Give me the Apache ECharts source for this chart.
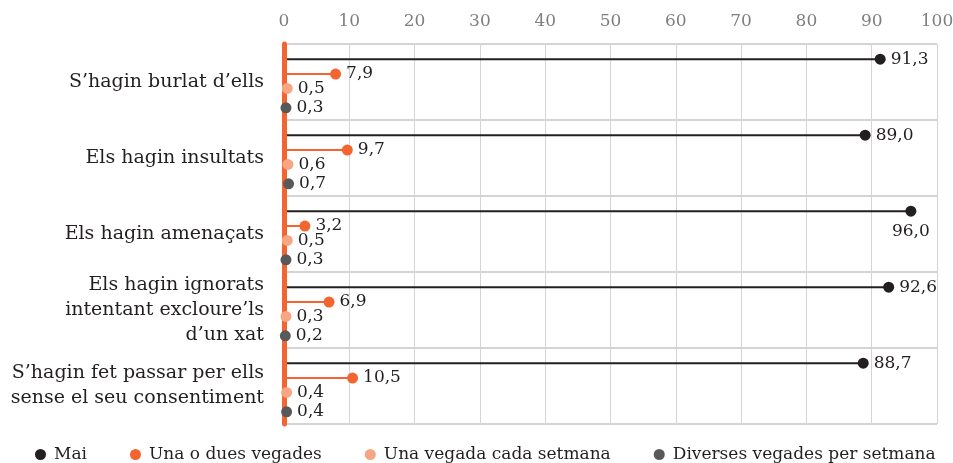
<!DOCTYPE html>
<html>
<head>
<meta charset="utf-8">
<script src="https://cdn.jsdelivr.net/npm/echarts@6/dist/echarts.min.js"></script>
<style>
html, body { margin: 0; padding: 0; background: #fff; }
#chart { width: 953px; height: 463px; }
</style>
</head>
<body>
<div id="chart"></div>
<script>
var categories = [
    'S’hagin burlat d’ells',
    'Els hagin insultats',
    'Els hagin amenaçats',
    'Els hagin ignorats\nintentant excloure’ls\nd’un xat',
    'S’hagin fet passar per ells\nsense el seu consentiment'
];
var seriesNames = ['Mai', 'Una o dues vegades', 'Una vegada cada setmana', 'Diverses vegades per setmana'];
var mai = [91.3, 89.0, 96.0, 92.6, 88.7];
var unaODues = [7.9, 9.7, 3.2, 6.9, 10.5];
var unaSetmana = [0.5, 0.6, 0.5, 0.3, 0.4];
var diverses = [0.3, 0.7, 0.3, 0.2, 0.4];
var xTicks = { min: 0, max: 100, interval: 10 };

var COLORS = [
    '#231f20', // Mai
    '#f26531', // Una o dues vegades
    '#f7a684', // Una vegada cada setmana
    '#58595b'  // Diverses vegades per setmana
];
// vertical place of each series inside its category band
var OFFSETS = [0.2, 0.395, 0.585, 0.84];
var FONT = 'DejaVu Serif';

var chart = echarts.init(document.getElementById('chart'));

function fmt(v) {
    return v.toFixed(1).replace('.', ',');
}

var allValues = [mai, unaODues, unaSetmana, diverses];
var series = [];
allValues.forEach(function (values, k) {
    var points = values.map(function (v, i) {
        var item = { value: [v, i + OFFSETS[k]] };
        if (v > 95) {
            item.label = { position: 'bottom', distance: 6 };
        }
        return item;
    });
    // stem from 0 to the value
    series.push({
        name: seriesNames[k],
        type: 'custom',
        z: 2,
        data: points.map(function (p) { return p.value; }),
        renderItem: function (params, api) {
            var p0 = api.coord([0, api.value(1)]);
            var p1 = api.coord([api.value(0), api.value(1)]);
            return {
                type: 'line',
                shape: { x1: p0[0], y1: p0[1], x2: p1[0], y2: p1[1] },
                style: { stroke: COLORS[k], lineWidth: 2 }
            };
        }
    });
    // dot + label
    series.push({
        name: seriesNames[k],
        type: 'scatter',
        z: 6,
        symbol: 'circle',
        symbolSize: 11,
        itemStyle: { color: COLORS[k], opacity: 1 },
        label: {
            show: true,
            position: 'right',
            distance: 5,
            color: '#231f20',
            fontFamily: FONT,
            fontSize: 17,
            formatter: function (p) { return fmt(p.value[0]); }
        },
        data: points
    });
});

var option = {
    animation: false,
    grid: { left: 284, right: 16, top: 44, bottom: 39, outerBoundsMode: 'none', containLabel: false },
    legend: {
        data: seriesNames.map(function (n, k) {
            return { name: n, itemStyle: { color: COLORS[k] } };
        }),
        icon: 'circle',
        left: 30,
        top: 441,
        itemWidth: 11,
        itemHeight: 11,
        itemGap: 43,
        textStyle: { fontFamily: FONT, fontSize: 17, color: '#231f20', padding: [0, 0, 0, 3] }
    },
    xAxis: {
        type: 'value',
        position: 'top',
        min: xTicks.min,
        max: xTicks.max,
        interval: xTicks.interval,
        axisLine: { show: false },
        axisTick: { show: false },
        axisLabel: { color: '#7f7f7f', fontFamily: FONT, fontSize: 17, margin: 14 },
        splitLine: { lineStyle: { color: '#d4d4d4', width: 1 } }
    },
    yAxis: [
        {
            type: 'value',
            min: 0,
            max: categories.length,
            interval: 1,
            inverse: true,
            axisLine: { show: false },
            axisTick: { show: false },
            axisLabel: { show: false },
            splitLine: { lineStyle: { color: '#d4d4d4', width: 2 } }
        },
        {
            type: 'category',
            position: 'left',
            data: categories,
            inverse: true,
            z: 4,
            axisLine: { show: true, lineStyle: { color: '#f26531', width: 5 } },
            axisTick: { show: false },
            axisLabel: { color: '#231f20', fontFamily: FONT, fontSize: 19, lineHeight: 25, margin: 20 },
            splitLine: { show: false }
        }
    ],
    series: series
};
chart.setOption(option);
</script>
</body>
</html>
